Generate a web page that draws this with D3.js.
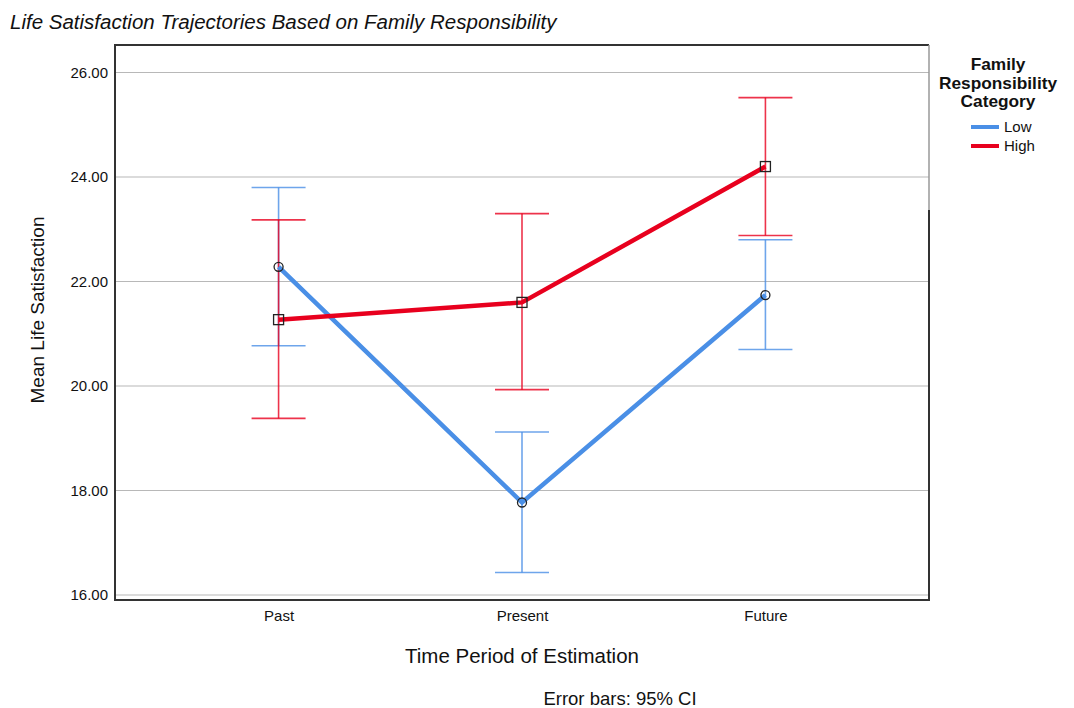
<!DOCTYPE html>
<html>
<head>
<meta charset="utf-8">
<script src="https://cdn.jsdelivr.net/npm/d3@7"></script>
<style>
	body { margin: 0; background: #fff; }
	text { font-family: "Liberation Sans", Arial, sans-serif; fill: #111; }
</style>
</head>
<body>
<div id="chart"></div>
<script>
// Chart data.
var periods = [ 'Past', 'Present', 'Future' ];
var groups = [ 'Low', 'High' ];
var lowMean = [ 22.28, 17.77, 21.74 ];
var lowLower = [ 20.77, 16.43, 20.70 ];
var lowUpper = [ 23.80, 19.12, 22.80 ];
var highMean = [ 21.27, 21.60, 24.20 ];
var highLower = [ 19.38, 19.93, 22.88 ];
var highUpper = [ 23.18, 23.30, 25.52 ];
var yTicks = [ 16, 18, 20, 22, 24, 26 ];

( function () {

	var width = 1074, height = 708;
	var frame = { left: 115, top: 45, right: 929, bottom: 600 };
	var colors = { Low: '#4a8fe6', High: '#e8001e' };

	var svg = d3.select( '#chart' ).append( 'svg' )
		.attr( 'width', width )
		.attr( 'height', height );

	var xScale = d3.scalePoint()
		.domain( periods )
		.range( [ frame.left, frame.right ] )
		.padding( 0.672 );

	var yScale = d3.scaleLinear()
		.domain( [ 16, 26 ] )
		.range( [ 595, 72.5 ] );

	// Gridlines.
	svg.append( 'g' )
		.selectAll( 'line' )
		.data( yTicks )
		.enter()
		.append( 'line' )
		.attr( 'x1', frame.left )
		.attr( 'x2', frame.right )
		.attr( 'y1', function ( d ) { return yScale( d ); } )
		.attr( 'y2', function ( d ) { return yScale( d ); } )
		.attr( 'stroke', '#b8b8b8' )
		.attr( 'stroke-width', 1.2 );

	// Y axis, labels only.
	var yAxis = d3.axisLeft( yScale )
		.tickValues( yTicks )
		.tickSize( 0 )
		.tickPadding( 7 )
		.tickFormat( d3.format( '.2f' ) );

	svg.append( 'g' )
		.attr( 'transform', 'translate( ' + frame.left + ', 0 )' )
		.call( yAxis )
		.call( function ( g ) { g.select( '.domain' ).remove(); } )
		.selectAll( 'text' )
		.attr( 'font-size', 15 )
		.attr( 'fill', '#111' )
		.style( 'font-family', '"Liberation Sans", Arial, sans-serif' );

	// X axis, labels only.
	var xAxis = d3.axisBottom( xScale ).tickSize( 0 ).tickPadding( 10 );

	svg.append( 'g' )
		.attr( 'transform', 'translate( 0, ' + frame.bottom + ' )' )
		.call( xAxis )
		.call( function ( g ) { g.select( '.domain' ).remove(); } )
		.selectAll( 'text' )
		.attr( 'font-size', 15 )
		.attr( 'fill', '#111' )
		.style( 'font-family', '"Liberation Sans", Arial, sans-serif' );

	// Frame.
	svg.append( 'path' )
		.attr( 'd', 'M' + frame.right + ',' + frame.bottom + 'H' + frame.left + 'V' + frame.top + 'H' + frame.right )
		.attr( 'fill', 'none' )
		.attr( 'stroke', '#333' )
		.attr( 'stroke-width', 2 );
	svg.append( 'line' )
		.attr( 'x1', frame.right ).attr( 'x2', frame.right )
		.attr( 'y1', frame.top ).attr( 'y2', 210 )
		.attr( 'stroke', '#999' ).attr( 'stroke-width', 1.5 );
	svg.append( 'line' )
		.attr( 'x1', frame.right ).attr( 'x2', frame.right )
		.attr( 'y1', 210 ).attr( 'y2', frame.bottom + 1 )
		.attr( 'stroke', '#333' ).attr( 'stroke-width', 2 );

	var series = [
		{ name: 'Low', mean: lowMean, lower: lowLower, upper: lowUpper, shape: 'circle' },
		{ name: 'High', mean: highMean, lower: highLower, upper: highUpper, shape: 'square' }
	];

	var capHalf = 27;

	// Error bars.
	series.forEach( function ( s ) {
		var g = svg.append( 'g' )
			.attr( 'stroke', colors[s.name] )
			.attr( 'stroke-width', 1.6 )
			.attr( 'stroke-opacity', 0.8 );
		periods.forEach( function ( p, i ) {
			var x = xScale( p );
			g.append( 'line' )
				.attr( 'x1', x ).attr( 'x2', x )
				.attr( 'y1', yScale( s.lower[i] ) ).attr( 'y2', yScale( s.upper[i] ) );
			[ s.lower[i], s.upper[i] ].forEach( function ( v ) {
				g.append( 'line' )
					.attr( 'x1', x - capHalf ).attr( 'x2', x + capHalf )
					.attr( 'y1', yScale( v ) ).attr( 'y2', yScale( v ) );
			} );
		} );
	} );

	// Mean lines.
	var line = d3.line()
		.x( function ( d, i ) { return xScale( periods[i] ); } )
		.y( function ( d ) { return yScale( d ); } );

	series.forEach( function ( s ) {
		svg.append( 'path' )
			.datum( s.mean )
			.attr( 'd', line )
			.attr( 'fill', 'none' )
			.attr( 'stroke', colors[s.name] )
			.attr( 'stroke-width', 4.5 );
	} );

	// Markers.
	series.forEach( function ( s ) {
		s.mean.forEach( function ( v, i ) {
			var x = xScale( periods[i] ), y = yScale( v );
			if ( s.shape === 'circle' ) {
				svg.append( 'circle' )
					.attr( 'cx', x ).attr( 'cy', y ).attr( 'r', 4.5 )
					.attr( 'fill', 'none' ).attr( 'stroke', '#222' ).attr( 'stroke-width', 1.3 );
			} else {
				svg.append( 'rect' )
					.attr( 'x', x - 5 ).attr( 'y', y - 5 ).attr( 'width', 10 ).attr( 'height', 10 )
					.attr( 'fill', 'none' ).attr( 'stroke', '#222' ).attr( 'stroke-width', 1.3 );
			}
		} );
	} );

	// Titles.
	svg.append( 'text' )
		.attr( 'x', 10 ).attr( 'y', 29 )
		.attr( 'font-size', 20.5 )
		.attr( 'font-style', 'italic' )
		.text( 'Life Satisfaction Trajectories Based on Family Responsibility' );

	svg.append( 'text' )
		.attr( 'transform', 'translate( 44, 310 ) rotate( -90 )' )
		.attr( 'text-anchor', 'middle' )
		.attr( 'font-size', 19 )
		.text( 'Mean Life Satisfaction' );

	svg.append( 'text' )
		.attr( 'x', ( frame.left + frame.right ) / 2 ).attr( 'y', 663 )
		.attr( 'text-anchor', 'middle' )
		.attr( 'font-size', 20.5 )
		.text( 'Time Period of Estimation' );

	svg.append( 'text' )
		.attr( 'x', 620 ).attr( 'y', 705 )
		.attr( 'text-anchor', 'middle' )
		.attr( 'font-size', 18.5 )
		.text( 'Error bars: 95% CI' );

	// Legend.
	var legendTitle = [ 'Family', 'Responsibility', 'Category' ];
	svg.append( 'g' )
		.selectAll( 'text' )
		.data( legendTitle )
		.enter()
		.append( 'text' )
		.attr( 'x', 998 )
		.attr( 'y', function ( d, i ) { return 70 + i * 18.5; } )
		.attr( 'text-anchor', 'middle' )
		.attr( 'font-size', 17.3 )
		.attr( 'font-weight', 'bold' )
		.text( function ( d ) { return d; } );

	var legendItem = svg.append( 'g' )
		.selectAll( 'g' )
		.data( groups )
		.enter()
		.append( 'g' )
		.attr( 'transform', function ( d, i ) { return 'translate( 971, ' + ( 127 + i * 19 ) + ' )'; } );

	legendItem.append( 'line' )
		.attr( 'x1', 0 ).attr( 'x2', 28 )
		.attr( 'stroke', function ( d ) { return colors[d]; } )
		.attr( 'stroke-width', 4 );

	legendItem.append( 'text' )
		.attr( 'x', 33 ).attr( 'y', 5 )
		.attr( 'font-size', 15 )
		.text( function ( d ) { return d; } );

} )();
</script>
</body>
</html>
